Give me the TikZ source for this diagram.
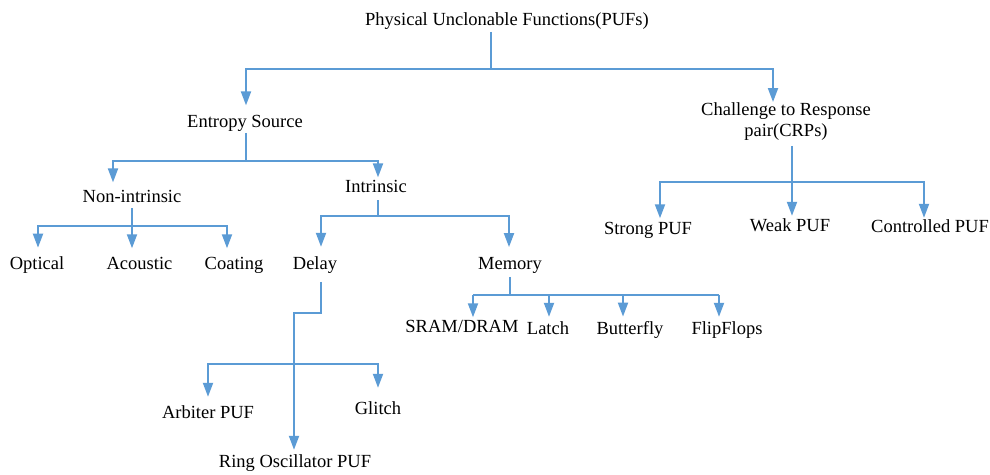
\documentclass[tikz,border=0pt]{standalone}
\usepackage{fontspec}
\setmainfont{Liberation Serif}
\usetikzlibrary{arrows.meta}
\definecolor{pufblue}{HTML}{5B9BD5}
\begin{document}
\begin{tikzpicture}[x=1pt,y=-1pt,
  lbl/.style={font=\fontsize{18.5}{21}\selectfont, inner sep=0pt, outer sep=0pt, anchor=base},
  link/.style={draw=pufblue, line width=2pt},
  arr/.style={link, -{Triangle[length=14pt,width=10pt]}},
  gap/.style={shorten >=#1},
  lead/.style={shorten <=#1}]
\useasboundingbox[fill=white] (0,0) rectangle (990,474);

% labels
\node[lbl] (puf) at (507,25) {Physical Unclonable Functions(PUFs)};
\node[lbl] (ent) at (245,127) {Entropy Source};
\node[lbl, anchor=north, align=center] (crp) at (786,103) {Challenge to Response\\pair(CRPs)};
\node[lbl] (nonin) at (132,202) {Non-intrinsic};
\node[lbl] (intr) at (376,192) {Intrinsic};
\node[lbl] (opt) at (37,269) {Optical};
\node[lbl] (aco) at (139.5,269) {Acoustic};
\node[lbl] (coat) at (234,269) {Coating};
\node[lbl] (delay) at (315,269) {Delay};
\node[lbl] (mem) at (510,269) {Memory};
\node[lbl] (sram) at (462,332) {SRAM/DRAM};
\node[lbl] (latch) at (548,334) {Latch};
\node[lbl] (bfly) at (630,334) {Butterfly};
\node[lbl] (ff) at (727,334) {FlipFlops};
\node[lbl] (arb) at (208,418) {Arbiter PUF};
\node[lbl] (glitch) at (378,414) {Glitch};
\node[lbl] (ring) at (295,467) {Ring Oscillator PUF};
\node[lbl] (strong) at (648,234) {Strong PUF};
\node[lbl] (weak) at (790,231) {Weak PUF};
\node[lbl] (ctrl) at (930,232) {Controlled PUF};

% junction points of the buses
\coordinate (b0) at (491,69);  \coordinate (b0l) at (246,69);  \coordinate (b0r) at (773,69);
\coordinate (b1) at (246,161); \coordinate (b1l) at (113,161); \coordinate (b1r) at (378,161);
\coordinate (b2) at (132,226); \coordinate (b2l) at (38,226);  \coordinate (b2r) at (227,226);
\coordinate (b3) at (378,216); \coordinate (b3l) at (321,216); \coordinate (b3r) at (509,216);
\coordinate (d1) at (321,313); \coordinate (d2) at (294,313);
\coordinate (b4) at (294,364); \coordinate (b4l) at (208,364); \coordinate (b4r) at (378,364);
\coordinate (b5) at (510,295); \coordinate (b5a) at (473,295); \coordinate (b5b) at (549,295);
\coordinate (b5c) at (623,295); \coordinate (b5d) at (719,295);
\coordinate (b6) at (792,182); \coordinate (b6l) at (660,182); \coordinate (b6r) at (924,182);

% root
\draw[link, lead=3] (b0 |- puf.south) -- (b0);
\draw[arr, gap=9.4] (b0) -- (b0l) -- (b0l |- ent.north);
\draw[arr, gap=1] (b0) -- (b0r) -- (b0r |- crp.north);

% entropy source
\draw[link, lead=2] (b1 |- ent.south) -- (b1);
\draw[arr, gap=7.4] (b1) -- (b1l) -- (b1l |- nonin.north);
\draw[arr, gap=2.4] (b1) -- (b1r) -- (b1r |- intr.north);

% non-intrinsic
\draw[arr, lead=6, gap=8.5] (b2 |- nonin.south) -- (b2 |- aco.north);
\draw[arr, gap=8.5] (b2) -- (b2l) -- (b2l |- opt.north);
\draw[arr, gap=8.5] (b2) -- (b2r) -- (b2r |- coat.north);

% intrinsic
\draw[link, lead=8] (b3 |- intr.south) -- (b3);
\draw[arr, gap=9.4] (b3) -- (b3l) -- (b3l |- delay.north);
\draw[arr, gap=9.8] (b3) -- (b3r) -- (b3r |- mem.north);

% delay
\draw[arr, lead=9, gap=4.4] (d1 |- delay.south) -- (d1) -- (d2) -- (d2 |- ring.north);
\draw[arr, gap=8.4] (b4) -- (b4l) -- (b4l |- arb.north);
\draw[arr, gap=13.4] (b4) -- (b4r) -- (b4r |- glitch.north);

% memory
\draw[link, lead=4] (b5 |- mem.south) -- (b5);
\draw[link] (b5a) -- (b5d);
\draw[arr, gap=2.5] (b5a) -- (b5a |- sram.north);
\draw[arr, gap=4.4] (b5b) -- (b5b |- latch.north);
\draw[arr, gap=4.4] (b5c) -- (b5c |- bfly.north);
\draw[arr, gap=4.4] (b5d) -- (b5d |- ff.north);

% challenge-response pairs
\draw[arr, lead=5, gap=2.4] (b6 |- crp.south) -- (b6 |- weak.north);
\draw[arr, gap=3.5] (b6) -- (b6l) -- (b6l |- strong.north);
\draw[arr, gap=1.4] (b6) -- (b6r) -- (b6r |- ctrl.north);
\end{tikzpicture}
\end{document}
